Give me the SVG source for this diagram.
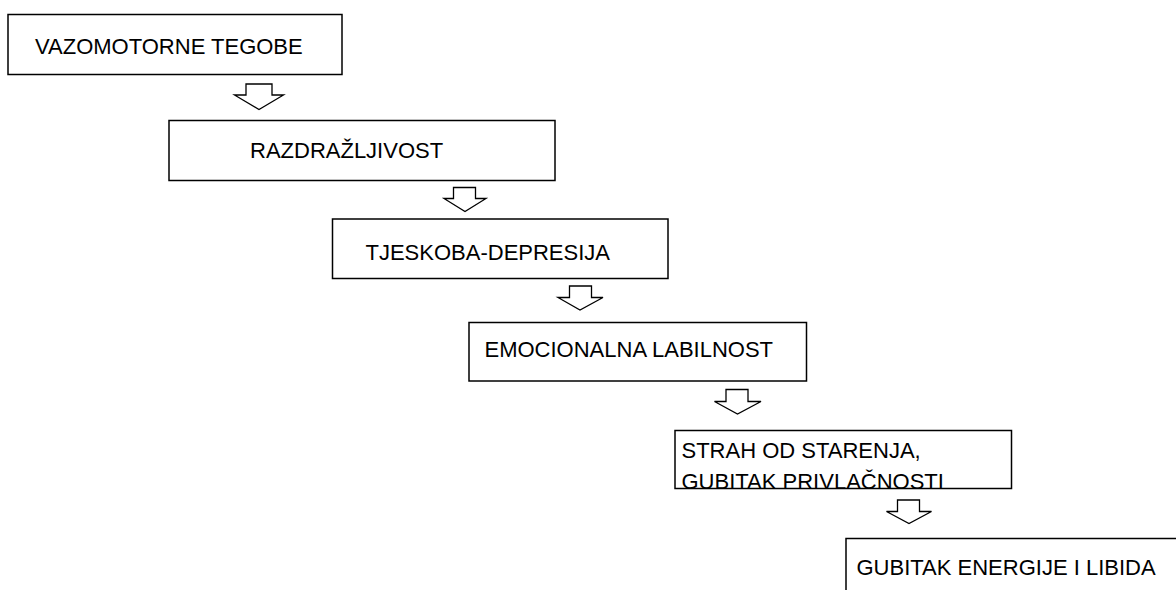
<svg xmlns="http://www.w3.org/2000/svg" width="1176" height="590" viewBox="0 0 1176 590">
<style>
.box{fill:#fff;stroke:#000;stroke-width:1.5}
.arr{fill:#fff;stroke:#000;stroke-width:1.3;stroke-linejoin:miter}
.t{font-family:"Liberation Sans",Arial,sans-serif;font-size:22px;fill:#000}
</style>
<rect width="1176" height="590" fill="#fff"/>
<g id="connectors">
<polygon class="arr" points="246,84 272,84 272,95 283.5,95 259,109.5 234.5,95 246,95"/>
<polygon class="arr" points="453.5,187.5 475.5,187.5 475.5,198.5 486,198.5 465,211.5 444,198.5 453.5,198.5"/>
<polygon class="arr" points="569.5,286 591.5,286 591.5,297.5 603,297.5 580,310 558,297.5 569.5,297.5"/>
<polygon class="arr" points="726,389.5 748,389.5 748,401.5 761,401.5 737.5,414 714.5,401.5 726,401.5"/>
<polygon class="arr" points="897.5,500 919.5,500 919.5,511.5 931.5,511.5 909,523.5 886.5,511.5 897.5,511.5"/>
</g>
<g id="n1">
<rect class="box" x="8" y="14.5" width="334" height="60"/>
<text class="t" x="35" y="54">VAZOMOTORNE TEGOBE</text>
</g>
<g id="n2">
<rect class="box" x="169" y="120.5" width="386" height="60"/>
<text class="t" x="250" y="158.3">RAZDRAŽLJIVOST</text>
</g>
<g id="n3">
<rect class="box" x="332.5" y="219" width="335.5" height="59.5"/>
<text class="t" x="365.5" y="259.5">TJESKOBA-DEPRESIJA</text>
</g>
<g id="n4">
<rect class="box" x="469" y="322.5" width="337.5" height="58.5"/>
<text class="t" x="484.5" y="356.5">EMOCIONALNA LABILNOST</text>
</g>
<g id="n5">
<rect class="box" x="675" y="430.5" width="336.5" height="58"/>
<text class="t" x="681.5" y="457.7">STRAH OD STARENJA,</text>
<text class="t" x="681.5" y="488.5">GUBITAK PRIVLAČNOSTI</text>
</g>
<g id="n6">
<rect class="box" x="846" y="538.5" width="340" height="60"/>
<text class="t" x="856.5" y="575">GUBITAK ENERGIJE I LIBIDA</text>
</g>
</svg>
